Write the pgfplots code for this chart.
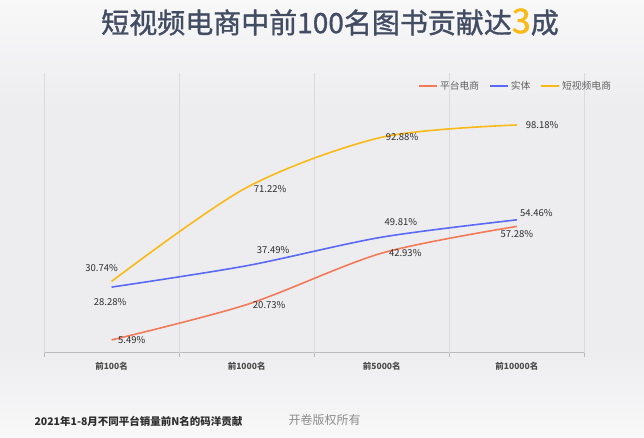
\documentclass[border=0pt]{standalone}
\usepackage{pgfplots}
\pgfplotsset{compat=1.18}
\usepackage{fontspec}
\setmainfont{Noto Sans CJK SC}
\newfontfamily\titlefont{Noto Sans CJK SC}[FakeBold=1.2]

\definecolor{cOrange}{RGB}{243,122,88}
\definecolor{cBlue}{RGB}{90,106,245}
\definecolor{cYellow}{RGB}{250,186,22}
\definecolor{titleC}{RGB}{66,76,98}
\definecolor{bgC}{RGB}{237,237,239}
\definecolor{bgTop}{RGB}{248,248,249}
\definecolor{gridC}{RGB}{218,218,220}
\definecolor{labC}{RGB}{45,45,45}

\begin{document}
\begin{tikzpicture}[x=1pt,y=1pt]
\path[use as bounding box] (0,0) rectangle (644,438);
\fill[bgC] (0,0) rectangle (644,438);
\shade[top color=bgTop, bottom color=bgC] (0,330) rectangle (644,438);
\shade[top color=bgC, bottom color=bgTop] (0,0) rectangle (644,90);

% title
\node[font=\titlefont\fontsize{28}{32}\selectfont, text=titleC] at (330,416)
  {短视频电商中前100名图书贡献达{\color{cYellow}\fontsize{34}{36}\selectfont 3}成};

\begin{axis}[
    at={(44pt,85.3pt)}, anchor=south west,
    scale only axis,
    width=540.4pt, height=279.7pt,
    xmin=-0.5, xmax=3.5, ymin=0, ymax=120.6,
    axis x line=bottom, axis y line=none,
    x axis line style={-, draw=gray!55},
    xtick={0,1,2,3},
    xticklabels={前100名,前1000名,前5000名,前10000名},
    major tick length=0pt,
    x tick label style={font=\bfseries\fontsize{8.5}{10}\selectfont, text=labC!85, yshift=-6pt},
    extra x ticks={-0.5,0.5,1.5,2.5,3.5},
    extra x tick labels={},
    extra x tick style={grid=major, major grid style={draw=gridC, line width=0.6pt},
        major tick length=4pt, tick align=outside, tick style={draw=gray!55}},
    ytick=\empty,
    clip=false,
    legend style={at={(0.687,0.953)}, anchor=west, draw=none, fill=none,
        legend columns=3, font=\fontsize{9.8}{11}\selectfont, text=gray!75!black,
        /tikz/every even column/.append style={column sep=8pt}},
    legend image code/.code={\draw[#1] (0pt,0pt) -- (18pt,0pt);},
  ]
\addplot[cOrange, line width=1.6pt, smooth, tension=0.5, mark=none]
  coordinates {(0,5.49) (1,20.73) (2,42.93) (3,54.46)};
\addplot[cBlue, line width=1.6pt, smooth, tension=0.5, mark=none]
  coordinates {(0,28.28) (1,37.49) (2,49.81) (3,57.28)};
\addplot[cYellow, line width=1.6pt, smooth, tension=0.5, mark=none]
  coordinates {(0,30.74) (1,71.22) (2,92.88) (3,98.18)};
\legend{平台电商,实体,短视频电商}

% data labels
\addplot[draw=none, mark=none, forget plot, nodes near coords,
    point meta=explicit symbolic,
    nodes near coords style={anchor=center, font=\fontsize{9.5}{11}\selectfont, text=labC}]
  table[meta=lab] {
x y lab
-0.073 36.4 30.74\%
-0.011 22.0 28.28\%
0.150 5.5 5.49\%
1.174 70.5 71.22\%
1.196 44.3 37.49\%
1.167 20.6 20.73\%
2.150 93.0 92.88\%
2.142 56.4 49.81\%
2.174 43.0 42.93\%
3.187 98.2 98.18\%
3.144 60.4 54.46\%
3.000 51.2 57.28\%
};
\end{axis}

% footer
\node[anchor=west, font=\bfseries\fontsize{10.5}{12}\selectfont, text=labC] at (31,17)
  {2021年1-8月不同平台销量前N名的码洋贡献};
\node[anchor=west, font=\fontsize{12}{14}\selectfont, text=gray!90] at (285,18) {开卷版权所有};
\end{tikzpicture}
\end{document}
